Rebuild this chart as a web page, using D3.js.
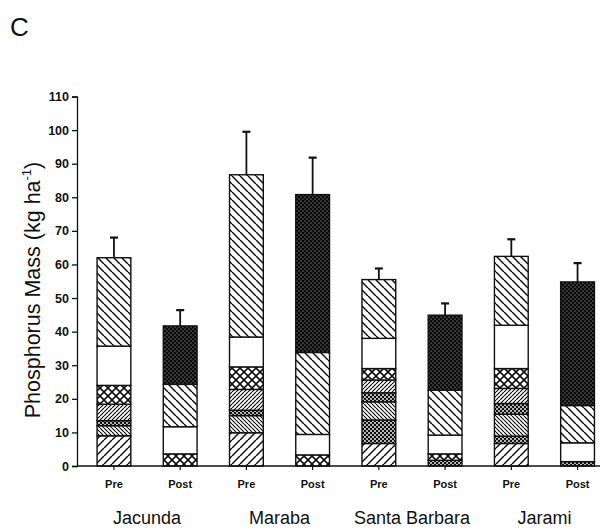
<!DOCTYPE html>
<html>
<head>
<meta charset="utf-8">
<script src="https://cdn.jsdelivr.net/npm/d3@7"></script>
<style>
  body { margin: 0; background: #fff; }
  svg { font-family: "Liberation Sans", Arial, sans-serif; }
</style>
</head>
<body>
<div id="chart"></div>
<script>
// bars, in drawing order
const sites = ["Jacunda", "Maraba", "Santa Barbara", "Jarami"];
const periods = ["Pre", "Post"];

// stacked layers, bottom to top (one value per bar: site x period)
const layerKeys = ["wideUp", "dotsLow", "denseDown", "dotsHigh", "denseUp", "cross", "blank", "wideDown", "dark"];
const wideUp    = [9.0, 0,   9.9, 0,   6.7, 0,   6.7, 0];
const dotsLow   = [0,   0,   0,   0,   7.0, 1.7, 2.2, 1.3];
const denseDown = [3.0, 0,   5.1, 0,   5.4, 0,   6.5, 0];
const dotsHigh  = [1.5, 0,   1.6, 0,   2.7, 0,   3.2, 0];
const denseUp   = [4.9, 0,   6.2, 0,   3.8, 0,   4.5, 0];
const cross     = [5.6, 3.6, 6.7, 3.3, 3.4, 1.9, 5.9, 0];
const blank     = [11.7, 8.1, 8.9, 6.1, 9.0, 5.6, 12.9, 5.6];
const wideDown  = [26.3, 12.6, 48.3, 24.4, 17.5, 13.4, 20.5, 11.1];
const dark      = [0,   17.4, 0,   47.0, 0,   22.3, 0,   36.8];
const errors    = [6.0, 4.7, 12.8, 11.0, 3.3, 3.5, 5.1, 5.6];

const yTicks = d3.range(0, 111, 10);

const width = 609, height = 531;
const svg = d3.select("#chart").append("svg")
    .attr("width", width)
    .attr("height", height);

// patterns for the bar segments
const defs = svg.append("defs");
function hatch(id, size, dir, sw) {
    const p = defs.append("pattern").attr("id", id)
        .attr("patternUnits", "userSpaceOnUse")
        .attr("width", size).attr("height", size);
    p.append("rect").attr("width", size).attr("height", size).attr("fill", "#fff");
    const lines = dir === "up"
        ? [[0, size, size, 0], [-size, size, 0, 0], [size, size, 2 * size, 0]]
        : [[0, 0, size, size], [-size, 0, 0, size], [size, 0, 2 * size, size]];
    lines.forEach(l => p.append("line")
        .attr("x1", l[0]).attr("y1", l[1]).attr("x2", l[2]).attr("y2", l[3])
        .attr("stroke", "#111").attr("stroke-width", sw));
    return p;
}
hatch("p-wideUp", 8, "up", 1.5);
hatch("p-wideDown", 8, "down", 1.5);
hatch("p-denseUp", 4, "up", 1.2);
hatch("p-denseDown", 4, "down", 1.2);
const cp = hatch("p-cross", 8, "up", 1.6);
[[0, 0, 8, 8], [-8, 0, 0, 8], [8, 0, 16, 8]].forEach(l => cp.append("line")
    .attr("x1", l[0]).attr("y1", l[1]).attr("x2", l[2]).attr("y2", l[3])
    .attr("stroke", "#111").attr("stroke-width", 1.6));

function dots(id, bg, fg, r) {
    const p = defs.append("pattern").attr("id", id)
        .attr("patternUnits", "userSpaceOnUse")
        .attr("width", 4).attr("height", 4);
    p.append("rect").attr("width", 4).attr("height", 4).attr("fill", bg);
    p.append("circle").attr("cx", 1).attr("cy", 1).attr("r", r).attr("fill", fg);
    p.append("circle").attr("cx", 3).attr("cy", 3).attr("r", r).attr("fill", fg);
}
dots("p-dotsLow", "#111", "#fff", 0.9);
dots("p-dotsHigh", "#111", "#fff", 0.9);
dots("p-dark", "#0a0a0a", "#ccc", 0.6);

const fills = {
    wideUp: "url(#p-wideUp)", dotsLow: "url(#p-dotsLow)", denseDown: "url(#p-denseDown)",
    dotsHigh: "url(#p-dotsHigh)", denseUp: "url(#p-denseUp)", cross: "url(#p-cross)",
    blank: "#fff", wideDown: "url(#p-wideDown)", dark: "url(#p-dark)"
};

// build the table for d3.stack
const layerValues = [wideUp, dotsLow, denseDown, dotsHigh, denseUp, cross, blank, wideDown, dark];
const bars = [];
sites.forEach((s, i) => periods.forEach((p, j) => {
    const k = i * 2 + j;
    const row = { id: s + "|" + p, site: s, period: p, err: errors[k] };
    layerKeys.forEach((key, li) => row[key] = layerValues[li][k]);
    bars.push(row);
}));

const axisX = 77, baseY = 466, topY = 96.5;

const x = d3.scaleBand()
    .domain(bars.map(d => d.id))
    .range([80.5, 611])
    .paddingInner(0.49)
    .paddingOuter(0.25);

const y = d3.scaleLinear()
    .domain([0, 110])
    .range([baseY, topY]);

const stack = d3.stack().keys(layerKeys);
const series = stack(bars);

const g = svg.append("g");
series.forEach(layer => {
    g.selectAll(null)
        .data(layer.filter(d => d[1] - d[0] > 0))
        .enter()
        .append("rect")
        .attr("x", d => x(d.data.id))
        .attr("y", d => y(d[1]))
        .attr("width", x.bandwidth())
        .attr("height", d => y(d[0]) - y(d[1]))
        .attr("fill", fills[layer.key])
        .attr("stroke", "#111")
        .attr("stroke-width", 1.4);
});

// error bars
const totals = bars.map(d => d3.sum(layerKeys, k => d[k]));
bars.forEach((d, i) => {
    const cx = x(d.id) + x.bandwidth() / 2;
    g.append("line")
        .attr("x1", cx).attr("x2", cx)
        .attr("y1", y(totals[i])).attr("y2", y(totals[i] + d.err))
        .attr("stroke", "#111").attr("stroke-width", 1.8);
    g.append("line")
        .attr("x1", cx - 4).attr("x2", cx + 4)
        .attr("y1", y(totals[i] + d.err)).attr("y2", y(totals[i] + d.err))
        .attr("stroke", "#111").attr("stroke-width", 2.2);
});

// y axis
const yAxis = svg.append("g")
    .attr("transform", `translate(${axisX},0)`)
    .call(d3.axisLeft(y).tickValues(yTicks).tickSize(5).tickPadding(3));
yAxis.select(".domain").attr("stroke", "#111").attr("stroke-width", 1.3);
yAxis.selectAll(".tick line").attr("stroke", "#111").attr("stroke-width", 1.3);
yAxis.selectAll(".tick text")
    .attr("font-size", 12.5).attr("font-weight", "bold").attr("fill", "#111");

// x axis line with ticks under each bar
svg.append("line")
    .attr("x1", axisX).attr("x2", 600)
    .attr("y1", baseY).attr("y2", baseY)
    .attr("stroke", "#111").attr("stroke-width", 1.5);
bars.forEach(d => {
    const cx = x(d.id) + x.bandwidth() / 2;
    svg.append("line")
        .attr("x1", cx).attr("x2", cx)
        .attr("y1", baseY).attr("y2", baseY + 4)
        .attr("stroke", "#111").attr("stroke-width", 1.2);
    svg.append("text")
        .attr("x", cx).attr("y", 488)
        .attr("text-anchor", "middle")
        .attr("font-size", 11).attr("font-weight", "bold")
        .attr("fill", "#111")
        .text(d.period);
});

// site names centred under each pair
sites.forEach(s => {
    const a = x(s + "|Pre"), b = x(s + "|Post") + x.bandwidth();
    svg.append("text")
        .attr("x", (a + b) / 2).attr("y", 524)
        .attr("text-anchor", "middle")
        .attr("font-size", 18)
        .attr("fill", "#111")
        .text(s);
});

// y label
const yl = svg.append("text")
    .attr("transform", "translate(40,290) rotate(-90)")
    .attr("text-anchor", "middle")
    .attr("font-size", 21.5)
    .attr("fill", "#111");
yl.append("tspan").text("Phosphorus Mass (kg ha");
yl.append("tspan").attr("font-size", 13).attr("dy", -9).text("-1");
yl.append("tspan").attr("dy", 9).text(")");

// panel letter
svg.append("text")
    .attr("x", 10).attr("y", 36)
    .attr("font-size", 26)
    .attr("fill", "#111")
    .text("C");
</script>
</body>
</html>
